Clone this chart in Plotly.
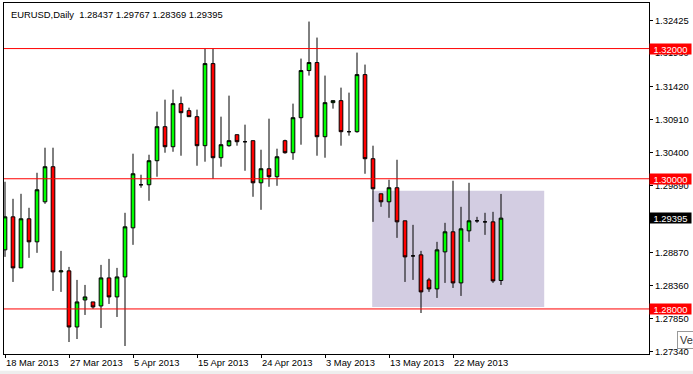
import plotly.graph_objects as go

# ---- data (EURUSD daily) ----
opens = [1.28908, 1.29415, 1.28631, 1.29385, 1.29031, 1.29646, 1.30185, 1.28569, 1.28585, 1.27723,
         1.28138, 1.28108, 1.28046, 1.28477, 1.28185, 1.28492, 1.29246, 1.29908, 1.29908, 1.30277,
         1.30800, 1.30492, 1.31154, 1.31046, 1.30954, 1.30508, 1.31769, 1.30323, 1.30508, 1.30677,
         1.30569, 1.30585, 1.29938, 1.30154, 1.30031, 1.30585, 1.30400, 1.30938, 1.31662, 1.31785,
         1.30646, 1.31169, 1.31200, 1.30723, 1.30723, 1.31600, 1.30308, 1.29769, 1.29646, 1.29862,
         1.29354, 1.28815, 1.28831, 1.28446, 1.28308, 1.28877, 1.29185, 1.28400, 1.29200, 1.29354,
         1.29338, 1.29338, 1.28437]
highs = [1.29954, 1.29692, 1.29769, 1.29554, 1.30092, 1.30477, 1.30477, 1.28892, 1.28646, 1.28446,
         1.28369, 1.28108, 1.28677, 1.28769, 1.28631, 1.29477, 1.30385, 1.30062, 1.30369, 1.31031,
         1.31215, 1.31369, 1.31262, 1.31092, 1.31062, 1.32000, 1.32000, 1.30954, 1.31277, 1.30677,
         1.30831, 1.30585, 1.30446, 1.30923, 1.30462, 1.30600, 1.31154, 1.31846, 1.32415, 1.32169,
         1.31585, 1.31200, 1.31400, 1.31323, 1.31938, 1.31754, 1.30508, 1.29769, 1.29985, 1.30292,
         1.29354, 1.29292, 1.28892, 1.28477, 1.29031, 1.29323, 1.29969, 1.29569, 1.29938, 1.29415,
         1.29477, 1.29492, 1.29767]
lows = [1.28800, 1.28415, 1.28631, 1.28785, 1.28862, 1.29615, 1.28277, 1.28262, 1.27492, 1.27538,
        1.27908, 1.28000, 1.27708, 1.28077, 1.27877, 1.27431, 1.28985, 1.29862, 1.29662, 1.30031,
        1.30400, 1.30415, 1.30354, 1.30954, 1.30200, 1.30262, 1.30000, 1.30185, 1.30492, 1.30508,
        1.30123, 1.29723, 1.29523, 1.29877, 1.29892, 1.30385, 1.30292, 1.30523, 1.31585, 1.30354,
        1.30323, 1.31077, 1.30508, 1.30662, 1.30708, 1.30077, 1.29338, 1.29569, 1.29400, 1.29092,
        1.28415, 1.28446, 1.27938, 1.28262, 1.28169, 1.28400, 1.28323, 1.28200, 1.29031, 1.29323,
        1.29138, 1.28400, 1.28369]
closes = [1.29415, 1.28631, 1.29385, 1.29031, 1.29831, 1.30185, 1.28569, 1.28585, 1.27723, 1.28108,
          1.28185, 1.28031, 1.28477, 1.28185, 1.28492, 1.29262, 1.30077, 1.29908, 1.30277, 1.30800,
          1.30492, 1.31154, 1.31015, 1.30954, 1.30508, 1.31769, 1.30323, 1.30523, 1.30585, 1.30569,
          1.30569, 1.29938, 1.30154, 1.30031, 1.30338, 1.30400, 1.30938, 1.31662, 1.31785, 1.30646,
          1.31169, 1.31200, 1.30723, 1.30723, 1.31600, 1.30308, 1.29846, 1.29646, 1.29862, 1.29338,
          1.28800, 1.28815, 1.28262, 1.28308, 1.28908, 1.29185, 1.28400, 1.29231, 1.29354, 1.29354,
          1.29338, 1.28431, 1.29395]

date_labels = ["18 Mar 2013", "27 Mar 2013", "5 Apr 2013", "15 Apr 2013",
               "24 Apr 2013", "3 May 2013", "13 May 2013", "22 May 2013"]
date_label_bars = [0, 8, 16, 24, 32, 40, 48, 56]

y_tick_values = [1.32425, 1.31930, 1.31420, 1.30910, 1.30400, 1.29890,
                 1.28870, 1.28360, 1.27850, 1.27340]
level_lines = [1.32000, 1.30000, 1.28000]
range_box = {"x0": 45.9, "x1": 67.4, "y0": 1.28031, "y1": 1.29815}

symbol = "EURUSD,Daily"

# ---- figure ----
bars = list(range(len(opens)))
FONT = "Liberation Sans"
FS = 9.4

fig = go.Figure()
fig.add_trace(go.Candlestick(
    x=bars, open=opens, high=highs, low=lows, close=closes,
    increasing=dict(fillcolor="#00FF00", line=dict(color="black", width=1)),
    decreasing=dict(fillcolor="#FF0000", line=dict(color="black", width=1)),
    whiskerwidth=0, hoverinfo="skip", showlegend=False,
))

shapes = []
shapes.append(dict(type="rect", xref="x", yref="y",
                   x0=range_box["x0"], x1=range_box["x1"],
                   y0=range_box["y0"], y1=range_box["y1"],
                   fillcolor="#D3CDE2", line=dict(width=0), layer="below"))
for lv in level_lines:
    shapes.append(dict(type="line", xref="paper", yref="y", x0=0, x1=1, y0=lv, y1=lv,
                       line=dict(color="#FF0000", width=1), layer="above"))
# window bottom strip
shapes.append(dict(type="rect", xref="paper", yref="paper", x0=-0.01, x1=1.07,
                   y0=-0.048, y1=-0.07, fillcolor="#EEEEEE", line=dict(width=0)))

annotations = []
last = len(opens) - 1
title_text = "%s  %.5f %.5f %.5f %.5f" % (symbol, opens[last], highs[last], lows[last], closes[last])
annotations.append(dict(text=title_text, xref="paper", yref="paper", x=0.008, y=0.99,
                        xanchor="left", yanchor="top", showarrow=False,
                        font=dict(family=FONT, size=FS, color="black")))
for lv in level_lines:
    annotations.append(dict(text="%.5f" % lv, xref="paper", yref="y", x=1.0, y=lv,
                            xanchor="left", yanchor="middle", showarrow=False,
                            bgcolor="#FF0000", borderpad=0, width=41, height=10, align="center",
                            font=dict(family=FONT, size=FS, color="white")))
annotations.append(dict(text="%.5f" % closes[last], xref="paper", yref="y", x=1.0, y=closes[last],
                        xanchor="left", yanchor="middle", showarrow=False,
                        bgcolor="#000000", borderpad=0, width=41, height=10, align="center",
                        font=dict(family=FONT, size=FS, color="white")))
annotations.append(dict(text="Ve", xref="paper", yref="paper", x=1.0434, y=0.04,
                        xanchor="left", yanchor="middle", showarrow=False,
                        bgcolor="white", bordercolor="#999999", borderwidth=1, borderpad=2,
                        font=dict(family=FONT, size=11, color="#333333")))

fig.update_layout(
    width=693, height=374,
    margin=dict(l=4, r=44, t=3, b=20),
    paper_bgcolor="white", plot_bgcolor="white",
    shapes=shapes, annotations=annotations,
    boxgap=0.35,
    showlegend=False,
    hovermode=False,
)
fig.update_xaxes(
    range=[-0.125, 80.5], rangeslider=dict(visible=False),
    tickmode="array", tickvals=date_label_bars, ticktext=date_labels,
    ticks="outside", ticklen=3, tickcolor="black", ticklabelposition="outside right",
    showgrid=False, zeroline=False, showline=True, linecolor="black", linewidth=1, mirror=True,
    tickfont=dict(family=FONT, size=FS, color="black"),
)
fig.update_yaxes(
    range=[1.27308, 1.32700], side="right",
    tickmode="array", tickvals=y_tick_values, ticktext=["%.5f" % v for v in y_tick_values],
    ticks="outside", ticklen=3, tickcolor="black",
    showgrid=False, zeroline=False, showline=True, linecolor="black", linewidth=1, mirror=True,
    tickfont=dict(family=FONT, size=FS, color="black"),
)

fig.write_html("out.html", config={"displayModeBar": False})
